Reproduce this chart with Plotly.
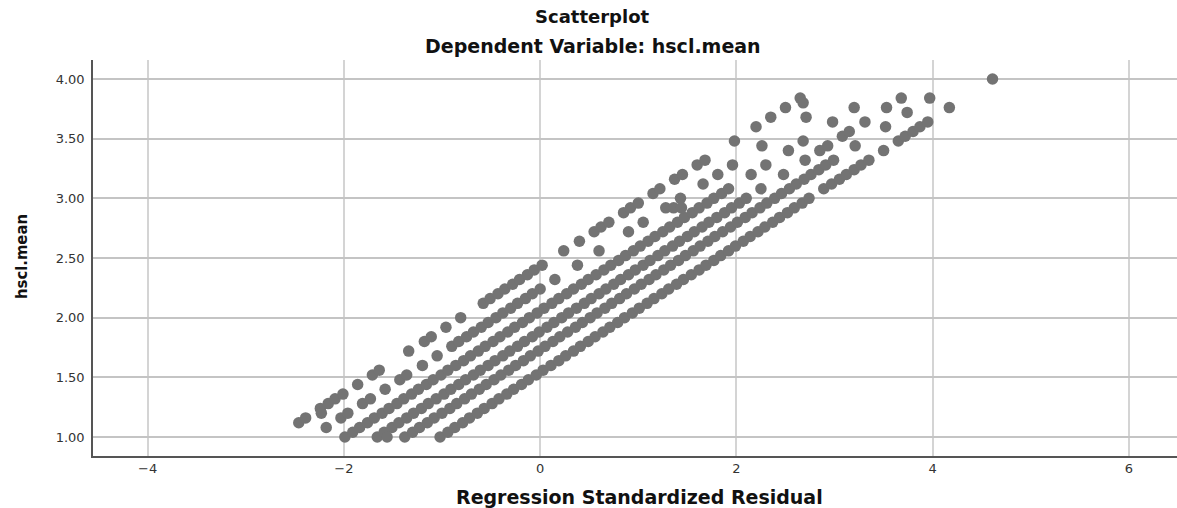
import plotly.graph_objects as go

# ---- data ----
# Regression standardized residual (x) and hscl.mean (y), grouped by the visible diagonal bands
band_a_x = [-1.02,-0.94,-0.87,-0.79,-0.72,-0.64,-0.57,-0.49,-0.42,-0.34,-0.27,-0.19,-0.12,-0.04,0.03,0.11,0.19,0.26,0.34,0.41,
            0.49,0.56,0.64,0.71,0.79,0.86,0.94,1.01,1.09,1.16,1.24,1.31,1.39,1.46,1.54,1.62,1.69,1.77,1.84,1.92,
            1.99,2.07,2.14,2.22,2.29,2.37,2.44,2.52,2.59,2.67,2.74,
            2.89,2.97,3.05,3.12,3.20,3.27,3.35,3.50,3.65,3.72,3.80,3.87,3.95,4.17,4.61]
band_a_y = [1.00,1.04,1.08,1.12,1.16,1.20,1.24,1.28,1.32,1.36,1.40,1.44,1.48,1.52,1.56,1.60,1.64,1.68,1.72,1.76,
            1.80,1.84,1.88,1.92,1.96,2.00,2.04,2.08,2.12,2.16,2.20,2.24,2.28,2.32,2.36,2.40,2.44,2.48,2.52,2.56,
            2.60,2.64,2.68,2.72,2.76,2.80,2.84,2.88,2.92,2.96,3.00,
            3.08,3.12,3.16,3.20,3.24,3.28,3.32,3.40,3.48,3.52,3.56,3.60,3.64,3.76,4.00]

band_b_x = [-1.38,-1.30,-1.23,-1.15,-1.08,-1.00,-0.92,-0.85,-0.77,-0.70,-0.62,-0.55,-0.47,-0.40,-0.32,-0.25,-0.17,-0.10,-0.02,0.05,
            0.13,0.20,0.28,0.36,0.43,0.51,0.58,0.66,0.73,0.81,0.88,0.96,1.03,1.11,1.18,1.26,1.33,1.41,1.48,1.56,
            1.63,1.71,1.78,1.86,1.94,2.01,2.09,2.16,2.24,2.31,2.39,2.46,2.54,2.61,2.69,2.76,2.84,2.91,2.99,
            3.21,3.52,3.74,3.97]
band_b_y = [1.00,1.04,1.08,1.12,1.16,1.20,1.24,1.28,1.32,1.36,1.40,1.44,1.48,1.52,1.56,1.60,1.64,1.68,1.72,1.76,
            1.80,1.84,1.88,1.92,1.96,2.00,2.04,2.08,2.12,2.16,2.20,2.24,2.28,2.32,2.36,2.40,2.44,2.48,2.52,2.56,
            2.60,2.64,2.68,2.72,2.76,2.80,2.84,2.88,2.92,2.96,3.00,3.04,3.08,3.12,3.16,3.20,3.24,3.28,3.32,
            3.44,3.60,3.72,3.84]

band_c_x = [-1.66,-1.59,-1.51,-1.44,-1.36,-1.29,-1.21,-1.14,-1.06,-0.98,-0.91,-0.83,-0.76,-0.68,-0.61,-0.53,-0.46,-0.38,-0.31,-0.23,
            -0.16,-0.08,-0.01,0.07,0.14,0.22,0.29,0.37,0.45,0.52,0.60,0.67,0.75,0.82,0.90,0.97,1.05,1.12,1.20,1.27,
            1.35,1.42,1.50,1.57,1.65,1.72,1.80,1.88,1.95,2.03,2.10,
            2.25,2.48,2.70,2.85,2.93,3.08,3.15,3.31,3.53,3.68]
band_c_y = [1.00,1.04,1.08,1.12,1.16,1.20,1.24,1.28,1.32,1.36,1.40,1.44,1.48,1.52,1.56,1.60,1.64,1.68,1.72,1.76,
            1.80,1.84,1.88,1.92,1.96,2.00,2.04,2.08,2.12,2.16,2.20,2.24,2.28,2.32,2.36,2.40,2.44,2.48,2.52,2.56,
            2.60,2.64,2.68,2.72,2.76,2.80,2.84,2.88,2.92,2.96,3.00,
            3.08,3.20,3.32,3.40,3.44,3.52,3.56,3.64,3.76,3.84]

band_d_x = [-1.99,-1.91,-1.84,-1.76,-1.69,-1.61,-1.54,-1.46,-1.39,-1.31,-1.24,-1.16,-1.09,-1.01,-0.94,-0.86,-0.78,-0.71,-0.63,-0.56,
            -0.48,-0.41,-0.33,-0.26,-0.18,-0.11,-0.03,0.04,0.12,0.19,0.27,0.34,0.42,0.49,0.57,0.65,0.72,0.80,0.87,0.95,
            1.02,1.10,1.17,1.25,1.32,1.40,1.47,1.55,1.62,1.70,1.77,1.85,1.92,
            2.15,2.30,2.53,2.68,2.98,3.20]
band_d_y = [1.00,1.04,1.08,1.12,1.16,1.20,1.24,1.28,1.32,1.36,1.40,1.44,1.48,1.52,1.56,1.60,1.64,1.68,1.72,1.76,
            1.80,1.84,1.88,1.92,1.96,2.00,2.04,2.08,2.12,2.16,2.20,2.24,2.28,2.32,2.36,2.40,2.44,2.48,2.52,2.56,
            2.60,2.64,2.68,2.72,2.76,2.80,2.84,2.88,2.92,2.96,3.00,3.04,3.08,
            3.20,3.28,3.40,3.48,3.64,3.76]

band_e_x = [-2.18,-2.03,-1.96,-1.81,-1.73,-1.58,-1.43,-1.36,-1.20,-1.05,-0.90,-0.83,-0.75,-0.68,-0.60,-0.53,-0.45,-0.38,-0.30,-0.23,
            -0.15,-0.08,0.00,0.15,0.38,0.60,0.90,1.05,1.28,1.43,1.66,1.81,1.96,2.26,2.71]
band_e_y = [1.08,1.16,1.20,1.28,1.32,1.40,1.48,1.52,1.60,1.68,1.76,1.80,1.84,1.88,1.92,1.96,2.00,2.04,2.08,2.12,
            2.16,2.20,2.24,2.32,2.44,2.56,2.72,2.80,2.92,3.00,3.12,3.20,3.28,3.44,3.68]

band_f_x = [-2.46,-2.39,-2.24,-2.16,-2.09,-2.01,-1.86,-1.71,-1.64,-1.34,-1.18,-1.11,-0.96,-0.81,-0.58,-0.51,-0.43,-0.36,-0.28,-0.21,
            -0.13,-0.06,0.02,0.24,0.40,0.55,0.62,0.70,0.85,0.92,1.00,1.15,1.22,1.37,1.45,1.60,1.68,1.98,2.20,2.35,
            2.50,2.65]
band_f_y = [1.12,1.16,1.24,1.28,1.32,1.36,1.44,1.52,1.56,1.72,1.80,1.84,1.92,2.00,2.12,2.16,2.20,2.24,2.28,2.32,
            2.36,2.40,2.44,2.56,2.64,2.72,2.76,2.80,2.88,2.92,2.96,3.04,3.08,3.16,3.20,3.28,3.32,3.48,3.60,3.68,
            3.76,3.84]

extra_x = [-2.23, 1.36, 1.44, 2.68, -1.56]
extra_y = [1.20, 2.92, 2.92, 3.80, 1.00]

x_tick_vals = [-4, -2, 0, 2, 4, 6]
y_tick_vals = [1.0, 1.5, 2.0, 2.5, 3.0, 3.5, 4.0]
y_tick_text = ["1.00", "1.50", "2.00", "2.50", "3.00", "3.50", "4.00"]

title_text = "Scatterplot"
subtitle_text = "Dependent Variable: hscl.mean"
x_title = "Regression Standardized Residual"
y_title = "hscl.mean"

# ---- figure ----
all_x = band_a_x + band_b_x + band_c_x + band_d_x + band_e_x + band_f_x + extra_x
all_y = band_a_y + band_b_y + band_c_y + band_d_y + band_e_y + band_f_y + extra_y

fig = go.Figure(go.Scatter(
    x=all_x, y=all_y, mode="markers",
    marker=dict(size=11.5, color="rgb(115,115,115)", line=dict(width=0)),
    hoverinfo="skip", showlegend=False,
))

tick_font = dict(family="DejaVu Sans, Verdana, sans-serif", size=13, color="#333333")
bold_font = "DejaVu Sans, Verdana, sans-serif"

fig.update_layout(
    width=1177, height=508,
    margin=dict(l=93, r=0, t=60, b=52),
    plot_bgcolor="white", paper_bgcolor="white",
    xaxis=dict(range=[-4.557, 6.49], tickvals=x_tick_vals, showgrid=True,
               gridcolor="#d4d4d4", gridwidth=2, zeroline=False, showline=True,
               linecolor="#555555", linewidth=1.5, ticks="", tickfont=tick_font),
    yaxis=dict(range=[0.841, 4.159], tickvals=y_tick_vals, ticktext=y_tick_text, showgrid=True,
               gridcolor="#c4c4c4", gridwidth=1.5, zeroline=False, showline=True,
               linecolor="#555555", linewidth=1.5, ticks="", tickfont=tick_font,
               ticklabelstandoff=4),
    annotations=[
        dict(text=f"<b>{title_text}</b>", xref="paper", yref="paper", x=0.4603, y=1.1086,
             xanchor="center", yanchor="middle", showarrow=False,
             font=dict(family=bold_font, size=18, color="#111111")),
        dict(text=f"<b>{subtitle_text}</b>", xref="paper", yref="paper", x=0.4613, y=1.0354,
             xanchor="center", yanchor="middle", showarrow=False,
             font=dict(family=bold_font, size=19, color="#111111")),
        dict(text=f"<b>{x_title}</b>", xref="paper", yref="paper", x=0.5046, y=-0.1035,
             xanchor="center", yanchor="middle", showarrow=False,
             font=dict(family=bold_font, size=19, color="#111111")),
        dict(text=f"<b>{y_title}</b>", xref="paper", yref="paper", x=-0.0664, y=0.5025,
             xanchor="center", yanchor="middle", showarrow=False, textangle=-90,
             font=dict(family="DejaVu Sans Condensed, Liberation Sans Narrow, sans-serif", size=16.5, color="#111111")),
    ],
)

fig.write_html("out.html", config={"displayModeBar": False},
               post_script="document.body.style.margin='0px';")
